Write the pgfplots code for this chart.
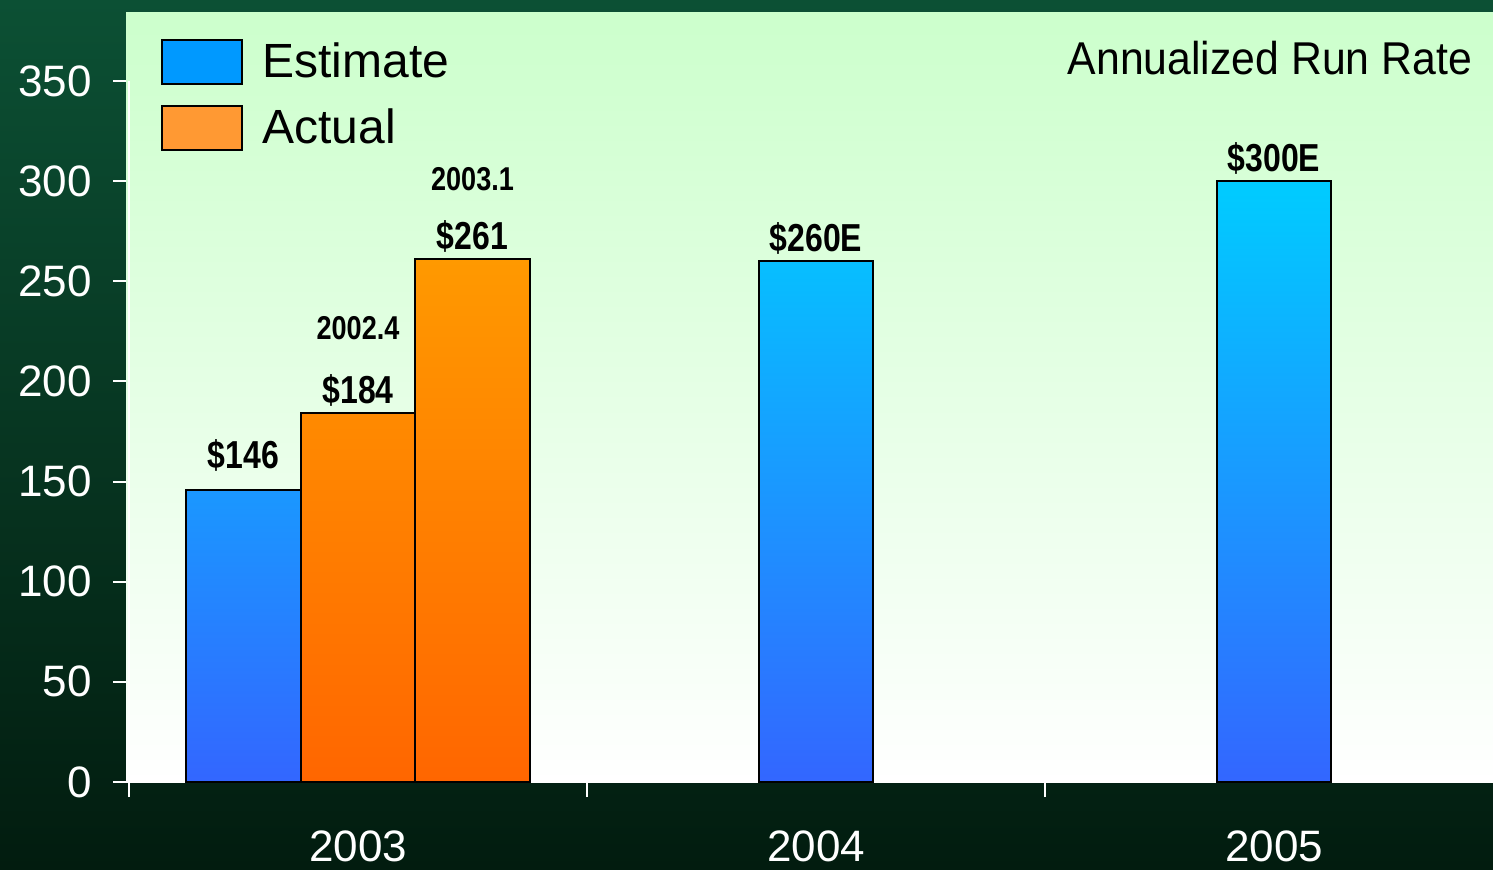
\documentclass[border=0pt]{standalone}
\usepackage{fontspec}
\setmainfont{Liberation Sans}
\newfontfamily\condfont[FakeStretch=0.82]{Liberation Sans}
\newfontfamily\titlefont[FakeStretch=0.93]{Liberation Sans}
\usepackage{pgfplots}
\pgfplotsset{compat=1.18}
\definecolor{bgtop}{RGB}{12,80,52}
\definecolor{bgbot}{RGB}{2,28,15}
\definecolor{plottop}{RGB}{204,255,204}
\definecolor{plotmid}{RGB}{224,255,224}
\definecolor{esttop}{RGB}{0,204,255}
\definecolor{estbot}{RGB}{51,102,255}
\definecolor{acttop}{RGB}{255,153,0}
\definecolor{actbot}{RGB}{255,102,0}
\definecolor{estleg}{RGB}{0,153,255}
\definecolor{actleg}{RGB}{255,153,51}
\begin{document}
\begin{tikzpicture}
\useasboundingbox (0pt,0pt) rectangle (746.5pt,434.5pt);
\shade[top color=bgtop, bottom color=bgbot] (0pt,0pt) rectangle (746.5pt,434.5pt);
\begin{axis}[
  at={(63pt,43.5pt)}, anchor=south west,
  scale only axis, width=683.5pt, height=385pt,
  xmin=-0.0066, xmax=2.978, ymin=0, ymax=384.4,
  axis background/.style={top color=plottop, middle color=plotmid, bottom color=white},
  ybar, bar width=0.25, bar shift=0pt,
  axis x line*=bottom, axis y line*=left,
  axis line style={-, white, line width=1pt},
  y axis line style={draw=none},
  ytick={0,50,...,350},
  xtick={0.5,1.5,2.5}, xticklabels={2003,2004,2005},
  minor xtick={0,1,2},
  tick align=outside,
  tick style={white, line width=1pt},
  major x tick style={draw=none},
  major tick length=6.5pt, minor tick length=7.5pt,
  ticklabel style={font=\fontsize{22}{26}\selectfont, text=white},
  yticklabel style={xshift=-7pt},
  xticklabel style={yshift=-14.5pt},
  /pgf/number format/assume math mode=true,
  point meta=explicit symbolic,
  nodes near coords,
  every node near coord/.append style={anchor=base, yshift=5pt, inner sep=0pt, font=\condfont\bfseries\fontsize{19.5}{22}\selectfont, text=black},
  legend style={at={(rel axis cs:0.025,0.966)}, anchor=north west, draw=none, fill=none, font=\fontsize{24}{28}\selectfont, row sep=10pt, inner sep=0pt, cells={anchor=west}},
  legend image code/.code={\draw[#1] (0pt,-11pt) rectangle (40pt,11pt); \path (48pt,0pt);},
]
\addlegendimage{fill=estleg, draw=black, line width=1pt}
\addlegendentry{Estimate}
\addlegendimage{fill=actleg, draw=black, line width=1pt}
\addlegendentry{Actual}
\addplot[forget plot, draw=black, line width=1pt, top color=esttop, bottom color=estbot]
  coordinates {(0.25,146) [\raisebox{5.5pt}{\$146}] (1.5,260) [\$260E] (2.5,300) [\$300E]};
\addplot[forget plot, draw=black, line width=1pt, top color=acttop, bottom color=actbot]
  coordinates {(0.5,184) [\$184] (0.75,261) [\$261]};
\node[anchor=base, yshift=37pt, inner sep=0pt, font=\condfont\bfseries\fontsize{16.5}{20}\selectfont] at (axis cs:0.5,184) {2002.4};
\node[anchor=base, yshift=34.5pt, inner sep=0pt, font=\condfont\bfseries\fontsize{16.5}{20}\selectfont] at (axis cs:0.75,261) {2003.1};
\node[anchor=north east, inner sep=0pt, font=\titlefont\fontsize{23}{26}\selectfont] at (rel axis cs:0.985,0.963) {Annualized Run Rate};
\draw[white, line width=1pt] (axis cs:0,0) -- (axis cs:0,350);
\end{axis}
\end{tikzpicture}
\end{document}
